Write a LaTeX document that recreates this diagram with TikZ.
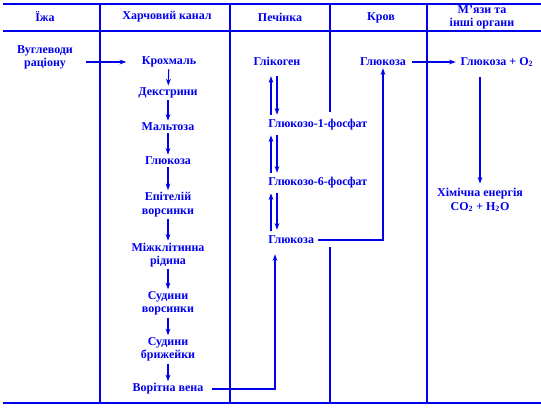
\documentclass[tikz,border=0pt]{standalone}
\usepackage{fontspec}
\setmainfont{Liberation Serif}
\usetikzlibrary{arrows.meta}
\definecolor{chartblue}{RGB}{0,0,235}
\tikzset{
  lbl/.style={text=chartblue, font=\bfseries\fontsize{9}{10}\selectfont, inner sep=1.5pt, align=center},
  flow/.style={draw=chartblue, line width=0.8pt, -{Stealth[length=5pt,width=3.6pt]}},
  rule/.style={draw=chartblue, line width=0.9pt},
}
\begin{document}
\begin{tikzpicture}[x=0.75pt,y=-0.75pt]
    \useasboundingbox (0,0) rectangle (541,408);
    % table rules
    \draw[rule] (3,4) -- (541,4);
    \draw[rule] (3,31) -- (541,31);
    \draw[rule] (3,403) -- (541,403);
    \draw[rule] (100,4) -- (100,403);
    \draw[rule] (230,4) -- (230,403);
    \draw[rule] (330,4) -- (330,112);
    \draw[rule] (330,247) -- (330,403);
    \draw[rule] (427,4) -- (427,403);

    % headers
    \node[lbl] (hfood) at (45,17) {Їжа};
    \node[lbl] (hgut) at (167,17) {Харчовий канал};
    \node[lbl] (hliver) at (280,17) {Печінка};
    \node[lbl] (hblood) at (381,18) {Кров};
    \node[lbl] (hmuscle) at (482,17.5) {М'язи та\\інші органи};

    % food and gut
    \node[lbl] (food) at (45,57.5) {Вуглеводи\\раціону};
    \node[lbl] (krokh) at (169,62) {Крохмаль};
    \node[lbl] (dext) at (168,93) {Декстрини};
    \node[lbl] (malt) at (168,127) {Мальтоза};
    \node[lbl] (glu1) at (168,161) {Глюкоза};
    \node[lbl] (epit) at (168,204.5) {Епітелій\\ворсинки};
    \node[lbl] (mizh) at (168,255) {Міжклітинна\\рідина};
    \node[lbl] (sudv) at (168,303.5) {Судини\\ворсинки};
    \node[lbl] (sudb) at (168,349.5) {Судини\\брижейки};
    \node[lbl] (vena) at (168,389) {Ворітна вена};

    % liver
    \node[lbl] (gly) at (277,61) {Глікоген};
    \node[lbl, anchor=west] (g1p) at (266,125) {Глюкозо-1-фосфат};
    \node[lbl, anchor=west] (g6p) at (266,183) {Глюкозо-6-фосфат};
    \node[lbl, anchor=west] (glu4) at (266,240) {Глюкоза};

    % blood and muscle
    \node[lbl] (glub) at (383,62) {Глюкоза};
    \node[lbl] (glo2) at (497,62) {Глюкоза + O\textsubscript{2}};
    \node[lbl] (energy) at (480,200) {Хімічна енергія\\CO\textsubscript{2} + H\textsubscript{2}O};

    \coordinate (lx) at (271,0);
    \coordinate (rx) at (277,0);
    \coordinate (vx) at (275,0);

    \draw[flow, shorten <=8pt, shorten >=10pt] (food.east |- krokh.west) -- (krokh.west);
    \draw[flow] (krokh) -- (dext);
    \draw[flow] (dext) -- (malt);
    \draw[flow] (malt) -- (glu1);
    \draw[flow] (glu1) -- (epit);
    \draw[flow] (epit) -- (mizh);
    \draw[flow] (mizh) -- (sudv);
    \draw[flow] (sudv) -- (sudb);
    \draw[flow] (sudb) -- (vena);
    \draw[flow, shorten <=5pt, shorten >=6pt] (vena.east) -| (vx |- glu4.south);

    \draw[flow, shorten <=2pt, shorten >=6.5pt] (lx |- g1p.north) -- (lx |- gly.south);
    \draw[flow, shorten <=6.5pt, shorten >=2pt] (rx |- gly.south) -- (rx |- g1p.north);
    \draw[flow, shorten <=2pt, shorten >=2pt] (lx |- g6p.north) -- (lx |- g1p.south);
    \draw[flow, shorten <=2pt, shorten >=2pt] (rx |- g1p.south) -- (rx |- g6p.north);
    \draw[flow, shorten <=2pt, shorten >=2pt] (lx |- glu4.north) -- (lx |- g6p.south);
    \draw[flow, shorten <=2pt, shorten >=3pt] (rx |- g6p.south) -- (rx |- glu4.north);

    \draw[flow, shorten <=1pt] (glu4.east) -| (glub.south);
    \draw[flow, shorten <=3pt, shorten >=2pt] (glub.east) -- (glo2.west);
    \draw[flow, shorten <=6pt, shorten >=2pt] (energy.north |- glo2.south) -- (energy.north);
\end{tikzpicture}
\end{document}
